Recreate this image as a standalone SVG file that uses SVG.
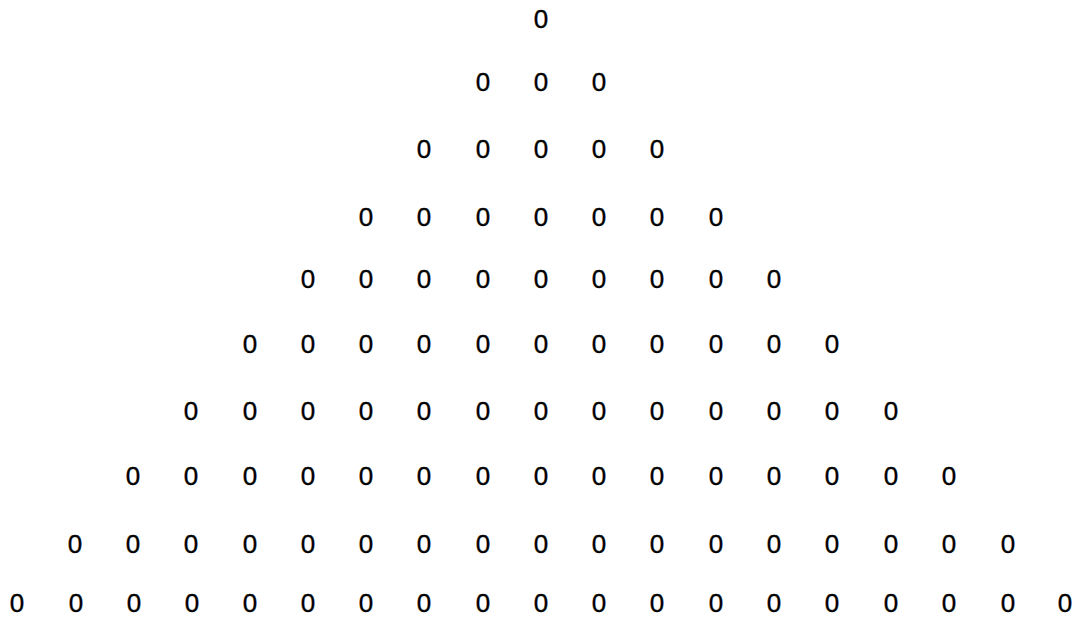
<svg xmlns="http://www.w3.org/2000/svg" width="1077" height="618" viewBox="0 0 1077 618">
<style>
text{font-family:"Liberation Sans",Arial,sans-serif;font-size:26px;fill:#000;stroke:#000;stroke-width:0.35;text-anchor:middle}
</style>
<rect width="1077" height="618" fill="#fff"/>
<g id="row1"><text x="541" y="28">0</text></g>
<g id="row2"><text x="483" y="91">0</text><text x="541" y="91">0</text><text x="599" y="91">0</text></g>
<g id="row3"><text x="424" y="158">0</text><text x="483" y="158">0</text><text x="541" y="158">0</text><text x="599" y="158">0</text><text x="657" y="158">0</text></g>
<g id="row4"><text x="366" y="226">0</text><text x="424" y="226">0</text><text x="483" y="226">0</text><text x="541" y="226">0</text><text x="599" y="226">0</text><text x="657" y="226">0</text><text x="716" y="226">0</text></g>
<g id="row5"><text x="308" y="288">0</text><text x="366" y="288">0</text><text x="424" y="288">0</text><text x="483" y="288">0</text><text x="541" y="288">0</text><text x="599" y="288">0</text><text x="657" y="288">0</text><text x="716" y="288">0</text><text x="774" y="288">0</text></g>
<g id="row6"><text x="250" y="353">0</text><text x="308" y="353">0</text><text x="366" y="353">0</text><text x="424" y="353">0</text><text x="483" y="353">0</text><text x="541" y="353">0</text><text x="599" y="353">0</text><text x="657" y="353">0</text><text x="716" y="353">0</text><text x="774" y="353">0</text><text x="832" y="353">0</text></g>
<g id="row7"><text x="191" y="420">0</text><text x="250" y="420">0</text><text x="308" y="420">0</text><text x="366" y="420">0</text><text x="424" y="420">0</text><text x="483" y="420">0</text><text x="541" y="420">0</text><text x="599" y="420">0</text><text x="657" y="420">0</text><text x="716" y="420">0</text><text x="774" y="420">0</text><text x="832" y="420">0</text><text x="891" y="420">0</text></g>
<g id="row8"><text x="133" y="485">0</text><text x="191" y="485">0</text><text x="250" y="485">0</text><text x="308" y="485">0</text><text x="366" y="485">0</text><text x="424" y="485">0</text><text x="483" y="485">0</text><text x="541" y="485">0</text><text x="599" y="485">0</text><text x="657" y="485">0</text><text x="716" y="485">0</text><text x="774" y="485">0</text><text x="832" y="485">0</text><text x="891" y="485">0</text><text x="949" y="485">0</text></g>
<g id="row9"><text x="75" y="553">0</text><text x="133" y="553">0</text><text x="191" y="553">0</text><text x="250" y="553">0</text><text x="308" y="553">0</text><text x="366" y="553">0</text><text x="424" y="553">0</text><text x="483" y="553">0</text><text x="541" y="553">0</text><text x="599" y="553">0</text><text x="657" y="553">0</text><text x="716" y="553">0</text><text x="774" y="553">0</text><text x="832" y="553">0</text><text x="891" y="553">0</text><text x="949" y="553">0</text><text x="1008" y="553">0</text></g>
<g id="row10"><text x="17" y="612">0</text><text x="76" y="612">0</text><text x="134" y="612">0</text><text x="192" y="612">0</text><text x="250" y="612">0</text><text x="308" y="612">0</text><text x="366" y="612">0</text><text x="424" y="612">0</text><text x="483" y="612">0</text><text x="541" y="612">0</text><text x="599" y="612">0</text><text x="657" y="612">0</text><text x="716" y="612">0</text><text x="774" y="612">0</text><text x="832" y="612">0</text><text x="891" y="612">0</text><text x="949" y="612">0</text><text x="1008" y="612">0</text><text x="1065" y="612">0</text></g>
</svg>
